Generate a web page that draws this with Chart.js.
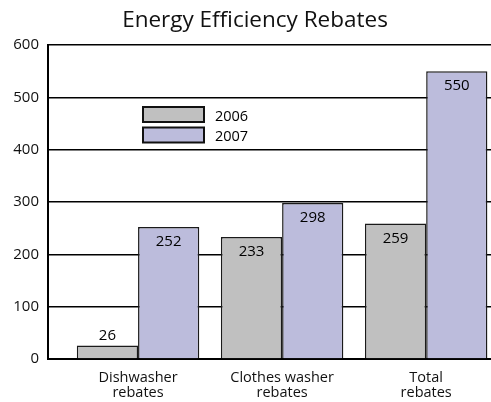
<!DOCTYPE html>
<html>
<head>
<meta charset="utf-8">
<script src="https://cdn.jsdelivr.net/npm/chart.js@4"></script>
<style>
  body { margin: 0; background: #fff; }
</style>
</head>
<body>
<canvas id="myChart" width="491" height="402"></canvas>
<script>
const title = "Energy Efficiency Rebates";
const categories = [["Dishwasher", "rebates"], ["Clothes washer", "rebates"], ["Total", "rebates"]];
const seriesNames = ["2006", "2007"];
const values2006 = [26, 233, 259];
const values2007 = [252, 298, 550];
const yTicks = [0, 100, 200, 300, 400, 500, 600];

const FONT = "'Open Sans', 'Noto Sans', sans-serif";
const colors = ["#c0c0c0", "#bcbcdc"];

const ctx = document.getElementById("myChart");

// value labels: inside the bar top, or above it when the bar is short
const valueLabels = {
  id: "valueLabels",
  afterDatasetsDraw(chart) {
    const c = chart.ctx;
    c.save();
    c.font = "15px " + FONT;
    c.fillStyle = "#000";
    c.textAlign = "center";
    c.textBaseline = "middle";
    chart.data.datasets.forEach((ds, i) => {
      chart.getDatasetMeta(i).data.forEach((bar, j) => {
        const h = bar.base - bar.y;
        const y = h > 30 ? bar.y + 15 : bar.y - 9.5;
        c.fillText(ds.data[j].y, bar.x, y);
      });
    });
    c.restore();
  },
};

// title (a bit right of centre, like the original) and legend box inside the plot
const decorations = {
  id: "decorations",
  afterDraw(chart) {
    const c = chart.ctx;
    c.save();
    c.font = "22.5px " + FONT;
    c.fillStyle = "#111";
    c.textAlign = "center";
    c.textBaseline = "middle";
    c.fillText(title, 255, 20.5);

    c.font = "14.5px " + FONT;
    c.textAlign = "left";
    chart.data.datasets.forEach((ds, i) => {
      const top = 107 + i * 20.5;
      c.fillStyle = ds.backgroundColor;
      c.fillRect(143, top, 61, 15);
      c.lineWidth = 2;
      c.strokeStyle = "#111";
      c.strokeRect(143, top, 61, 15);
      c.fillStyle = "#000";
      c.fillText(ds.label, 215, top + 9.5);
    });
    c.restore();
  },
};

const myChart = new Chart(ctx, {
  type: "bar",
  data: {
    datasets: [
      {
        label: seriesNames[0],
        data: values2006.map((v, i) => ({ x: i + 1, y: v })),
        backgroundColor: colors[0],
        borderColor: "#1a1a1a",
        borderWidth: 1.5,
      },
      {
        label: seriesNames[1],
        data: values2007.map((v, i) => ({ x: i + 1, y: v })),
        backgroundColor: colors[1],
        borderColor: "#1a1a1a",
        borderWidth: 1.5,
      },
    ],
  },
  options: {
    responsive: false,
    animation: false,
    layout: { padding: { top: 45 } },
    datasets: {
      bar: { categoryPercentage: 0.85, barPercentage: 1 },
    },
    plugins: {
      legend: { display: false },
      tooltip: { enabled: false },
      title: { display: false },
    },
    scales: {
      x: {
        type: "linear",
        offset: false,
        min: 0.375,
        max: 3.45,
        grid: { display: false, drawTicks: false, offset: false },
        border: { display: true, color: "#000", width: 2 },
        afterBuildTicks: (axis) => {
          axis.ticks = categories.map((c, i) => ({ value: i + 1 }));
        },
        afterFit: (axis) => {
          axis.height = 43;
        },
        ticks: {
          color: "#111",
          padding: 12,
          maxRotation: 0,
          autoSkip: false,
          font: { family: FONT, size: 14.5, lineHeight: 1 },
          callback: (v) => categories[v - 1] || "",
        },
      },
      y: {
        min: 0,
        max: 600,
        afterBuildTicks: (axis) => {
          axis.ticks = yTicks.map((v) => ({ value: v }));
        },
        afterFit: (axis) => {
          axis.width = 48;
        },
        grid: { color: "#000", lineWidth: 1.5, drawTicks: false },
        border: { display: true, color: "#000", width: 2 },
        ticks: {
          color: "#111",
          padding: 9,
          font: { family: FONT, size: 15 },
        },
      },
    },
  },
  plugins: [valueLabels, decorations],
});
</script>
</body>
</html>
